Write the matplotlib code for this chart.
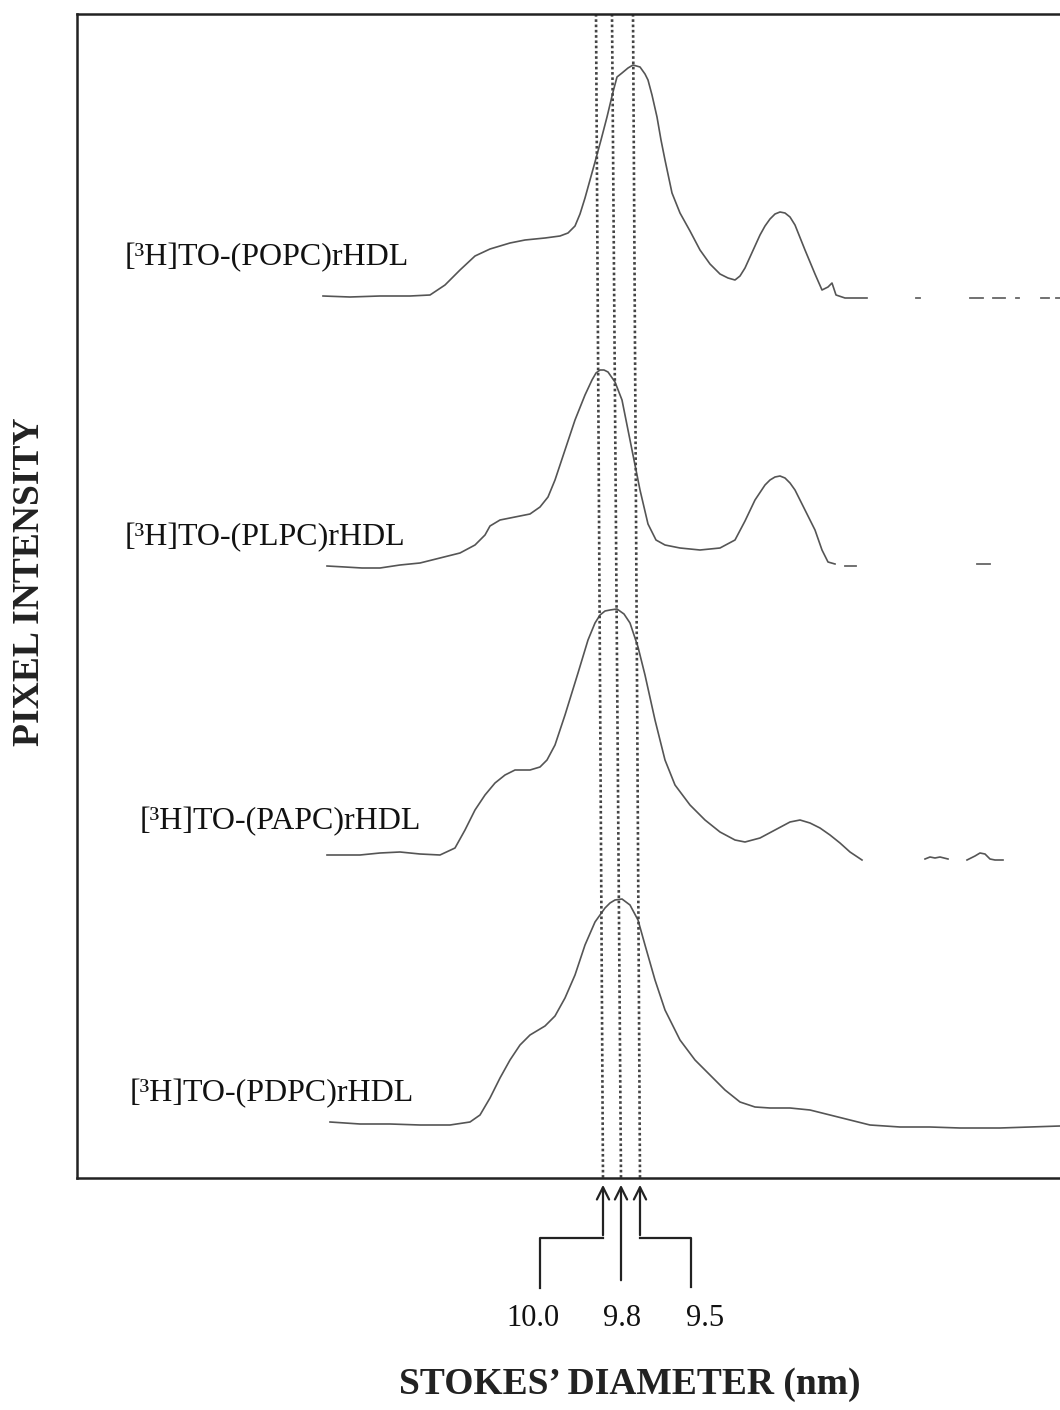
import numpy as np
import matplotlib
matplotlib.use("Agg")
import matplotlib.pyplot as plt

plt.rcParams['font.family'] = ['Liberation Serif', 'DejaVu Serif']

# densitometer scans (x = migration distance, y = scan position)
popc_x = [323, 350, 380, 410, 430, 445, 460, 475, 490, 510, 525, 545, 560, 568, 575, 580, 585, 590, 595, 601, 607, 613,
          617, 622, 628, 633, 640, 645, 648, 652, 657, 661, 665, 672, 680, 690, 700, 710, 720, 728, 735, 740, 745, 750, 755, 760, 765,
          770, 775, 780, 785, 790, 795, 805, 815, 822, 828, 832, 836, 845, 867]
popc_y = [296, 297, 296, 296, 295, 285, 270, 256, 249, 243, 240, 238, 236, 233, 226, 214, 198, 180, 162, 140, 117, 92,
          77, 73, 68, 65, 67, 74, 80, 95, 117, 140, 160, 193, 213, 231, 250, 264, 274, 278, 280, 276, 268, 257, 246, 235, 226,
          219, 214, 212, 213, 217, 225, 250, 274, 290, 287, 283, 295, 298, 298]
popc_tail = [(916, 920, 298), (970, 983, 298), (993, 1005, 298), (1016, 1019, 298), (1041, 1049, 298), (1056, 1060, 298)]

plpc_x = [327, 345, 362, 380, 400, 420, 440, 460, 475, 485, 490, 500, 515, 530, 540, 548, 555, 565, 575,
          585, 592, 596, 600, 604, 608, 615, 622, 630, 640, 648, 656, 665, 680, 700, 720, 735, 745, 755, 765,
          770, 775, 780, 785, 790, 795, 805, 815, 822, 828, 835]
plpc_y = [566, 567, 568, 568, 565, 563, 558, 553, 545, 535, 526, 520, 517, 514, 507, 497, 480, 450, 420,
          395, 380, 373, 370, 370, 372, 382, 400, 440, 490, 524, 540, 545, 548, 550, 548, 540, 521, 500, 485,
          480, 477, 476, 478, 483, 490, 510, 530, 550, 562, 564]
plpc_tail = [(845, 856, 566), (977, 990, 564)]

papc_x = [327, 360, 380, 400, 420, 440, 455, 465, 475, 485, 495, 505, 515, 530, 540, 547, 555, 565, 578,
          588, 595, 600, 605, 610, 617, 624, 630, 638, 645, 655, 665, 675, 690, 705, 720, 735, 745, 760, 775,
          790, 800, 810, 820, 830, 840, 850, 862]
papc_y = [855, 855, 853, 852, 854, 855, 848, 830, 810, 795, 783, 775, 770, 770, 767, 760, 745, 715, 673,
          640, 623, 615, 611, 610, 609, 614, 623, 647, 675, 720, 760, 785, 805, 820, 832, 840, 842, 838, 830,
          822, 820, 823, 828, 835, 843, 852, 860]
papc_tail_x = [925, 930, 935, 940, 944, 948, np.nan, 967, 975, 980, 985, 990, 995, 1003]
papc_tail_y = [859, 857, 858, 857, 858, 859, np.nan, 860, 856, 853, 854, 859, 860, 860]

pdpc_x = [330, 360, 390, 420, 450, 470, 480, 490, 500, 510, 520, 530, 545, 555, 565, 575, 585, 595, 605,
          610, 615, 622, 630, 638, 645, 655, 665, 680, 695, 710, 725, 740, 755, 770, 790, 810, 830, 850,
          870, 900, 930, 960, 1000, 1030, 1060]
pdpc_y = [1122, 1124, 1124, 1125, 1125, 1122, 1115, 1098, 1078, 1060, 1045, 1035, 1026, 1016, 998, 975, 945, 922, 908,
          903, 900, 899, 905, 920, 945, 980, 1010, 1040, 1060, 1075, 1090, 1102, 1107, 1108, 1108, 1110, 1115, 1120,
          1125, 1127, 1127, 1128, 1128, 1127, 1126]

labels = ['[³H]TO-(POPC)rHDL', '[³H]TO-(PLPC)rHDL', '[³H]TO-(PAPC)rHDL', '[³H]TO-(PDPC)rHDL']
label_x = [125, 125, 140, 130]
label_y = [258, 538, 822, 1094]

# Stokes' diameter reference lines (top / bottom of gel)
diam_labels = ['10.0', '9.8', '9.5']
ref_top_x = [596, 612, 633]
ref_bot_x = [603, 621, 640]

W, H = 1060, 1410
fig = plt.figure(figsize=(W / 100, H / 100), dpi=100)

# main framed panel (right edge runs off the page in the original)
L, T, B, R = 77, 14, 1178, 1090
ax = fig.add_axes([L / W, 1 - B / H, (R - L) / W, (B - T) / H])
ax.set_xlim(L, R)
ax.set_ylim(B, T)
ax.set_xticks([])
ax.set_yticks([])
for s in ['left', 'top', 'bottom']:
    ax.spines[s].set_linewidth(1.8)
    ax.spines[s].set_color('#222222')
ax.spines['right'].set_visible(False)

trace_kw = dict(color='#555555', lw=1.2)
ax.plot(popc_x, popc_y, **trace_kw)
ax.plot(plpc_x, plpc_y, **trace_kw)
ax.plot(papc_x, papc_y, **trace_kw)
ax.plot(pdpc_x, pdpc_y, **trace_kw)
ax.plot(papc_tail_x, papc_tail_y, **trace_kw)
for x0, x1, y in popc_tail + plpc_tail:
    ax.plot([x0, x1], [y, y], color='#666666', lw=1.3)

for xt, xb in zip(ref_top_x, ref_bot_x):
    ax.plot([xt, xb], [T, B], color='#444444', lw=1.9, ls=(0, (1, 1)))

for txt, x, y in zip(labels, label_x, label_y):
    ax.text(x, y, txt, fontsize=23, ha='left', va='center', color='#111111')

# overlay for annotations outside the frame
ov = fig.add_axes([0, 0, 1, 1])
ov.set_xlim(0, W)
ov.set_ylim(H, 0)
ov.axis('off')
ov.patch.set_alpha(0)

arrow_kw = dict(arrowstyle='->', color='#222222', lw=1.6, mutation_scale=22)
elbow_y = 1238
foot_x = [540, ref_bot_x[1], 691]
foot_y = [1288, 1283, 1287]
for i, xb in enumerate(ref_bot_x):
    start_y = foot_y[i] if i == 1 else elbow_y
    ov.annotate('', xy=(xb, 1182), xytext=(xb, start_y), arrowprops=arrow_kw)
    if i != 1:
        ov.plot([xb, foot_x[i], foot_x[i]], [elbow_y, elbow_y, foot_y[i]], color='#222222', lw=1.6)

label_pos = [533, 622, 705]
for txt, x in zip(diam_labels, label_pos):
    ov.text(x, 1318, txt, fontsize=22, ha='center', va='center', color='#111111')

ov.text(630, 1385, 'STOKES’ DIAMETER (nm)', fontsize=27, fontweight='bold',
        ha='center', va='center', color='#222222')
ov.text(30, 582, 'PIXEL INTENSITY', fontsize=27, fontweight='bold', rotation=90,
        ha='center', va='center', color='#222222')

fig.savefig('out.png', dpi=100)
